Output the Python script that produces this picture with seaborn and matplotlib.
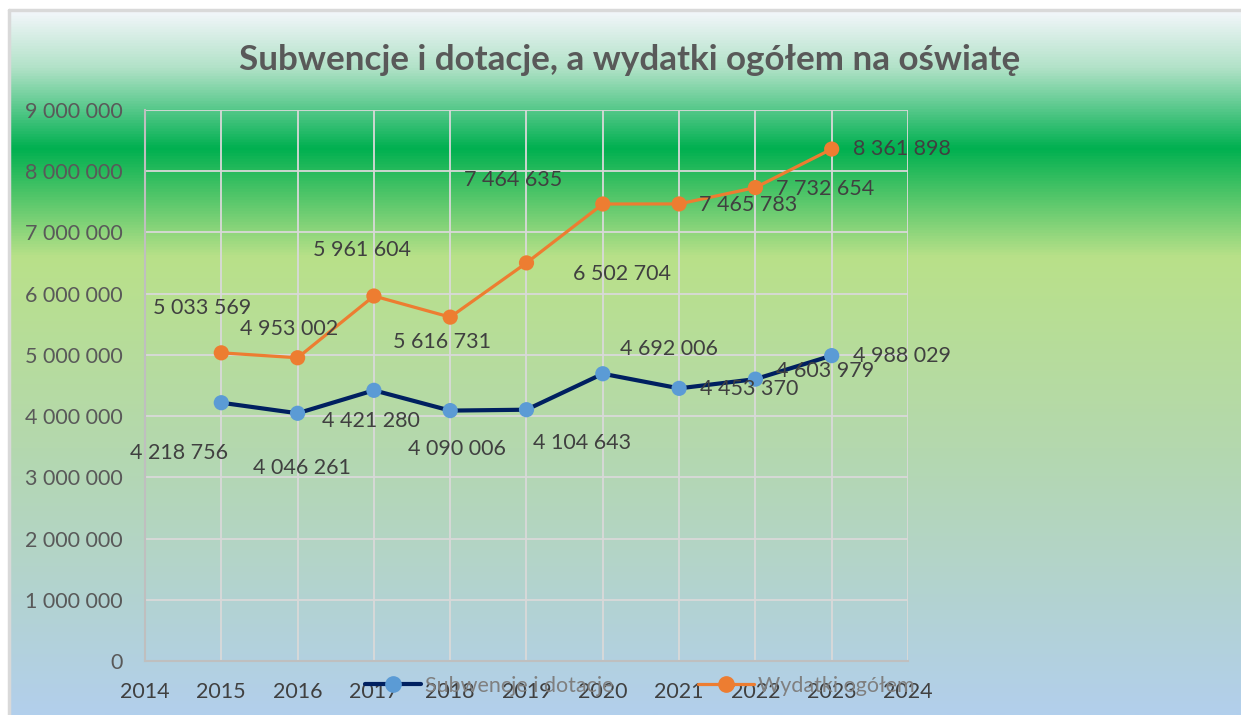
import numpy as np
import pandas as pd
import matplotlib
matplotlib.use("Agg")
import matplotlib.pyplot as plt
from matplotlib.colors import LinearSegmentedColormap
from matplotlib.ticker import FuncFormatter
from matplotlib.lines import Line2D
import seaborn as sns

years = [2015, 2016, 2017, 2018, 2019, 2020, 2021, 2022, 2023]
subwencje = [4218756, 4046261, 4421280, 4090006, 4104643, 4692006, 4453370, 4603979, 4988029]
wydatki = [5033569, 4953002, 5961604, 5616731, 6502704, 7464635, 7465783, 7732654, 8361898]
series_names = ["Subwencje i dotacje", "Wydatki ogółem"]
title = "Subwencje i dotacje, a wydatki ogółem na oświatę"

# label offsets in pixels (dx, dy up) - mimic the Excel placement
sub_offsets = [(-42, -50), (4, -55), (-3, -31), (7, -38), (56, -33), (66, 25), (70, -1), (70, 8), (70, 0)]
wyd_offsets = [(-19, 45), (-9, 29), (-12, 46), (-8, -25), (96, -11), (-90, 24), (69, -1), (70, -1), (70, 0)]

sns.set_theme(style="white")
plt.rcParams["font.family"] = ["Lato", "DejaVu Sans"]

df = pd.DataFrame({
    "rok": years * 2,
    "wartosc": subwencje + wydatki,
    "seria": [series_names[0]] * len(years) + [series_names[1]] * len(years),
})

W, H = 1241, 715
fig = plt.figure(figsize=(W / 100, H / 100), dpi=100)
fig.patch.set_facecolor("white")

# gradient background of the chart area
bg = fig.add_axes([9 / W, 0, 1 - 9 / W, 1 - 10 / H], zorder=-10)
stops = [
    (0.0, "#f3f7fb"),
    (0.08, "#b2e2c8"),
    (0.195, "#00b050"),
    (0.35, "#b9e189"),
    (0.62, "#b4d8ae"),
    (1.0, "#b2cfec"),
]
cmap = LinearSegmentedColormap.from_list("bg", stops)
grad = np.linspace(0, 1, 512).reshape(-1, 1)
bg.imshow(grad, aspect="auto", cmap=cmap, extent=[0, 1, 0, 1], origin="upper")
bg.set_xlim(0, 1)
bg.set_ylim(0, 1)
bg.axis("off")
bg.plot([0, 0], [0, 1], color="#d9d9d9", lw=2.5, clip_on=False)
bg.plot([0, 1], [1, 1], color="#d9d9d9", lw=2.5, clip_on=False)

ax = fig.add_axes([145 / W, 1 - 661 / H, (908 - 145) / W, (661 - 110) / H])
ax.set_facecolor("none")

palette = {series_names[0]: "#002060", series_names[1]: "#ed7d31"}
marker_colors = {series_names[0]: "#5b9bd5", series_names[1]: "#ed7d31"}
widths = {series_names[0]: 3.0, series_names[1]: 2.3}

for name in series_names:
    sub = df[df["seria"] == name]
    sns.lineplot(data=sub, x="rok", y="wartosc", color=palette[name],
                 linewidth=widths[name], ax=ax, zorder=3, legend=False)
    sns.scatterplot(data=sub, x="rok", y="wartosc", color=marker_colors[name],
                    s=120, edgecolor="none", ax=ax, zorder=4, legend=False)

fmt = lambda v: f"{int(v):,}".replace(",", " ")
for vals, offs in ((subwencje, sub_offsets), (wydatki, wyd_offsets)):
    for x, v, (dx, dy) in zip(years, vals, offs):
        ax.annotate(fmt(v), (x, v), xytext=(dx, dy), textcoords="offset pixels",
                    ha="center", va="center", fontsize=15.5, color="#404040", zorder=5)

ax.set_xlim(2014, 2024)
ax.set_ylim(0, 9000000)
ax.set_xticks(range(2014, 2025))
ax.set_yticks(range(0, 9000001, 1000000))
ax.yaxis.set_major_formatter(FuncFormatter(lambda v, p: fmt(v)))
ax.grid(True, color="#d9d9d9", linewidth=1.3)
ax.set_axisbelow(True)
for side in ("top", "right"):
    ax.spines[side].set_visible(False)
for side in ("left", "bottom"):
    ax.spines[side].set_color("#bfbfbf")
    ax.spines[side].set_linewidth(1.5)
ax.tick_params(axis="y", labelsize=15.5, labelcolor="#595959", length=0, pad=16)
ax.tick_params(axis="x", labelsize=15.5, labelcolor="#404040", length=0, pad=15)
ax.set_xlabel("")
ax.set_ylabel("")

fig.text(630 / W, 1 - 60 / H, title, ha="center", va="center",
         fontsize=25.2, fontweight="bold", color="#595959")

handles = [
    Line2D([], [], color=palette[n], lw=widths[n], marker="o", markersize=11,
           markerfacecolor=marker_colors[n], markeredgecolor=marker_colors[n])
    for n in series_names
]
leg = fig.legend(handles, series_names, loc="center", bbox_to_anchor=(640 / W, 1 - 686 / H),
                 ncol=2, frameon=False, fontsize=15.5, columnspacing=3.9,
                 handlelength=2.6, handletextpad=0.2, borderpad=0, borderaxespad=0)
for t in leg.get_texts():
    t.set_color("#7f7f7f")

fig.savefig("out.png", dpi=100)
